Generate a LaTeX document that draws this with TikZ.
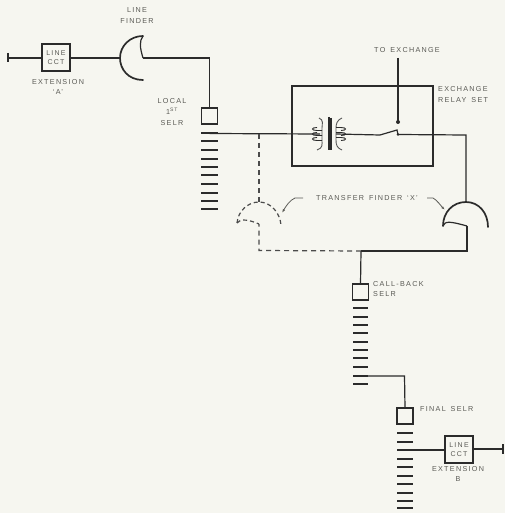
\documentclass[tikz,border=0pt]{standalone}
\usetikzlibrary{arrows.meta}
\usepackage{fontspec}
\setmainfont{Liberation Sans}[LetterSpace=18,WordSpace=1.5]
\definecolor{paper}{HTML}{F6F6F0}
\definecolor{ink}{HTML}{2B2B2B}
\definecolor{lab}{HTML}{5A5A55}
\tikzset{
  wire/.style={draw=ink,line width=1.2pt},
  dashwire/.style={draw=ink!85,line width=1.2pt,dash pattern=on 5pt off 4pt},
  heavy/.style={draw=ink,line width=1.7pt},
  barline/.style={draw=ink,line width=2pt},
  selbox/.style={draw=ink,line width=1.7pt,fill=none,minimum width=16pt,minimum height=16pt,inner sep=0pt,outer sep=0pt},
  cctbox/.style={draw=ink,line width=1.7pt,minimum width=27.5pt,minimum height=26.5pt,inner sep=0pt,outer sep=0pt,align=center,text=lab,font=\fontsize{7}{9}\selectfont},
  lbl/.style={text=lab,inner sep=0pt,align=center,font=\fontsize{7.2}{10.6}\selectfont},
}
\begin{document}
\begin{tikzpicture}[x=1pt,y=-1pt]
\useasboundingbox (0,0) rectangle (505,513);
\fill[paper] (0,0) rectangle (505,513);

% ---- nodes
\node[cctbox] (cctA) at (56,57.5) {LINE\\CCT};
\node[cctbox] (cctB) at (459,449.5) {LINE\\CCT};
\node[selbox] (sel1) at (209.5,116) {};
\node[selbox] (cb) at (360.5,292) {};
\node[selbox] (fin) at (405,416) {};
\node[draw=ink,line width=1.7pt,minimum width=141pt,minimum height=80pt,inner sep=0pt,outer sep=0pt] (relay) at (362.5,126) {};

% ---- labels
\node[lbl] (tLF) at (137,15.5) {LINE\\FINDER};
\node[lbl] (tEA) at (58,87) {EXTENSION\\‘A’};
\node[lbl] (tLS) at (172,112) {LOCAL\\1\textsuperscript{ST}\\SELR};
\node[lbl] (tTE) at (407,50) {TO EXCHANGE};
\node[lbl,align=left,anchor=west] (tRS) at (438,94.5) {EXCHANGE\\RELAY SET};
\node[lbl] (tTF) at (367,198) {TRANSFER FINDER ‘X’};
\node[lbl,align=left,anchor=west] (tCB) at (373,289) {CALL-BACK\\SELR};
\node[lbl,align=left,anchor=west] (tFS) at (420,409) {FINAL SELR};
\node[lbl] (tEB) at (458,474) {EXTENSION\\B};

% ---- named points
\coordinate (termA) at (8,58);
\coordinate (lfIn) at (120,58);
\coordinate (lfOut) at (143,58);
\coordinate (lfCorner) at (209.5,58);
\coordinate (b1) at (209.5,133.5);
\coordinate (coilL) at (320,134);
\coordinate (coilR) at (336,134);
\coordinate (cA) at (380,135);
\coordinate (cB) at (397,130);
\coordinate (cC) at (398,134.5);
\coordinate (exTop) at (398,58);
\coordinate (exDot) at (398,122);
\coordinate (rCorner) at (466,135);
\coordinate (tfTop) at (466,202);
\coordinate (tfOut) at (467,226);
\coordinate (tfLow) at (467,251);
\coordinate (jn) at (361,251);
\coordinate (dLow) at (259,250.5);
\coordinate (dOut) at (259,224);
\coordinate (dTop) at (259,202);
\coordinate (dUp) at (259,134);
\coordinate (b2) at (360.5,376);
\coordinate (b2c) at (404.5,376);
\coordinate (b3) at (405,450);
\coordinate (termB) at (503,449);

% ---- termination ticks
\draw[heavy] (8,53) -- (8,62);
\draw[heavy] (503,444) -- (503,454);

% ---- solid connectors
\draw[wire] (termA) -- (cctA.west |- termA);
\draw[wire] (cctA.east |- lfIn) -- (lfIn);
\draw[wire,line join=miter] (lfOut) -- (lfCorner) -- (sel1.north);
\draw[wire] (b1) -- (coilL);
\draw[wire] (coilR) -- (cA);
\draw[wire] (cC) -- (rCorner) -- (tfTop);
\draw[wire] (tfOut) -- (tfLow) -- (jn);
\draw[wire] (jn) -- (cb.north);
\draw[wire] (b2) -- (b2c) -- (fin.north);
\draw[wire] (b3) -- (cctB.west |- b3);
\draw[wire] (cctB.east |- termB) -- (termB);
\draw[wire] (exTop) -- (exDot);
\fill[ink] (exDot) circle (2pt);
\fill[ink] (cC) circle (1.3pt);
\draw[wire] (cA) -- (cB) -- (cC);

% ---- dashed connectors
\draw[dashwire] (dUp) -- (dTop);
\draw[dashwire] (jn) -- (dLow) -- (dOut);

% ---- line finder
\draw[heavy,line cap=round] (143,80) .. controls (128,80) and (120,69) .. (120,58) .. controls (120,46) and (130,36) .. (143,36);
\draw[wire] (143,36) .. controls (139,41) and (140,48) .. (lfOut);

% ---- transfer finder X (solid)
\draw[heavy,line cap=round] (443,226) .. controls (443,212) and (453,202) .. (tfTop) .. controls (479,202) and (488,213) .. (488,227);
\draw[wire] (443,226) .. controls (445,221) and (449,221) .. (tfOut);

% ---- transfer finder (dashed)
\draw[dashwire,dash pattern=on 4pt off 3pt] (237,223) .. controls (238,211) and (248,202) .. (dTop) .. controls (271,202) and (280,213) .. (281,225);
\draw[dashwire,dash pattern=on 4pt off 3pt] (237,223) .. controls (240,218) and (250,220) .. (dOut);

% ---- transfer finder leaders
\draw[draw=lab,line width=.8pt,-{Latex[length=4pt,width=2.5pt]}] (303,198) -- (295,198) .. controls (290,200) and (286,206) .. (282,213);
\draw[draw=lab,line width=.8pt,-{Latex[length=4pt,width=2.5pt]}] (427,198) -- (433,198) .. controls (437,200) and (441,206) .. (445,210);

% ---- transformer
\draw[draw=ink,line width=1.2pt] (329,117) -- (329,150);
\draw[draw=ink,line width=1.2pt] (331,118) -- (331,150);
\draw[draw=ink!80,line width=.9pt] (319,118) .. controls (324,120) and (322,124) .. (322,128) -- (322,140) .. controls (322,145) and (323,148) .. (317,150);
\draw[draw=ink!80,line width=.9pt] (342,118) .. controls (337,120) and (336,124) .. (336,128) -- (336,140) .. controls (336,145) and (337,148) .. (342,150);
\foreach \yy in {129,134,139}{
  \draw[draw=ink,line width=.9pt] (317,\yy-1.5) .. controls (311,\yy-1.5) and (311,\yy+1.5) .. (317,\yy+1.5) -- (322,\yy+1.5);
  \draw[draw=ink,line width=.9pt] (336,\yy-1.5) -- (341,\yy-1.5) .. controls (347,\yy-1.5) and (347,\yy+1.5) .. (341,\yy+1.5);
}

% ---- selector banks
\foreach \yy in {133,141.5,150,158.5,167,175,184,192.5,201,209}
  \draw[barline] (201,\yy) -- (218,\yy);
\foreach \yy in {308,316.5,325,333,342,350,358,367,375.5,384}
  \draw[barline] (353,\yy) -- (368,\yy);
\foreach \yy in {433,442,450,459,467,476,484,493,501,508}
  \draw[barline] (397,\yy) -- (413,\yy);
\end{tikzpicture}
\end{document}
